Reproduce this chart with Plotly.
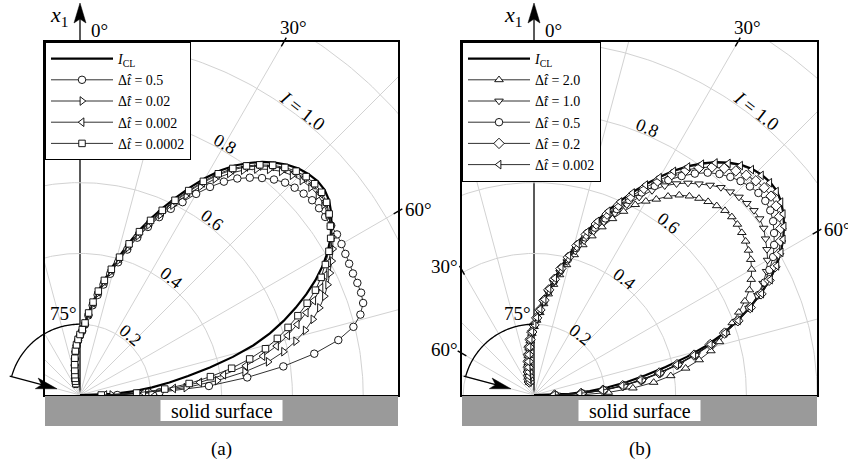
import math
import numpy as np
import plotly.graph_objects as go

# ---------------- data (angle from the surface normal x1, degrees) ----------------
THETA = [-20, -18, -16, -14, -12, -10, -8, -6, -4, -2,
         0, 2, 4, 6, 8, 10, 12, 14, 16, 18,
         20, 22, 24, 26, 28, 30, 32, 34, 36, 38,
         40, 42, 44, 46, 48, 50, 52, 54, 56, 58,
         60, 62, 64, 66, 68, 70, 72, 74, 76, 78,
         80, 82, 84, 86, 88, 90]

# panel (a)
ICL_A = [0.035, 0.042, 0.050, 0.060, 0.072, 0.088, 0.106, 0.126, 0.143, 0.158,
         0.172, 0.186, 0.205, 0.234, 0.267, 0.300, 0.334, 0.370, 0.410, 0.455,
         0.498, 0.540, 0.580, 0.622, 0.665, 0.708, 0.748, 0.782, 0.810, 0.836,
         0.857, 0.875, 0.889, 0.898, 0.903, 0.902, 0.893, 0.877, 0.857, 0.834,
         0.808, 0.776, 0.740, 0.700, 0.657, 0.612, 0.564, 0.510, 0.445, 0.375,
         0.310, 0.255, 0.205, 0.155, 0.095, 0.000]
A_DT_0_5 = [0.034, 0.041, 0.049, 0.058, 0.070, 0.085, 0.103, 0.122, 0.139, 0.154,
            0.168, 0.181, 0.199, 0.226, 0.256, 0.287, 0.319, 0.353, 0.390, 0.432,
            0.473, 0.512, 0.550, 0.585, 0.617, 0.656, 0.693, 0.727, 0.756, 0.779,
            0.800, 0.819, 0.834, 0.843, 0.850, 0.856, 0.857, 0.856, 0.856, 0.856,
            0.853, 0.849, 0.846, 0.844, 0.845, 0.845, 0.841, 0.824, 0.796, 0.746,
            0.672, 0.580, 0.475, 0.365, 0.225, 0.105]
A_DT_0_02 = [0.034, 0.041, 0.049, 0.059, 0.071, 0.086, 0.104, 0.123, 0.140, 0.155,
             0.169, 0.183, 0.201, 0.229, 0.260, 0.292, 0.325, 0.359, 0.396, 0.438,
             0.479, 0.518, 0.557, 0.597, 0.638, 0.680, 0.720, 0.755, 0.785, 0.810,
             0.832, 0.850, 0.863, 0.872, 0.877, 0.878, 0.874, 0.866, 0.855, 0.842,
             0.825, 0.806, 0.786, 0.766, 0.745, 0.720, 0.692, 0.662, 0.628, 0.588,
             0.540, 0.470, 0.390, 0.300, 0.200, 0.090]
A_DT_0_002 = [0.035, 0.042, 0.050, 0.060, 0.072, 0.087, 0.105, 0.124, 0.141, 0.156,
              0.170, 0.184, 0.203, 0.231, 0.263, 0.296, 0.329, 0.364, 0.402, 0.445,
              0.487, 0.527, 0.566, 0.607, 0.649, 0.692, 0.732, 0.767, 0.796, 0.821,
              0.843, 0.861, 0.874, 0.883, 0.887, 0.886, 0.880, 0.868, 0.854, 0.840,
              0.818, 0.795, 0.770, 0.745, 0.712, 0.680, 0.645, 0.610, 0.572, 0.528,
              0.475, 0.410, 0.340, 0.265, 0.180, 0.070]
A_DT_0_0002 = [0.034, 0.041, 0.049, 0.059, 0.071, 0.087, 0.105, 0.125, 0.142, 0.157,
               0.171, 0.185, 0.204, 0.233, 0.265, 0.298, 0.331, 0.366, 0.405, 0.449,
               0.491, 0.532, 0.571, 0.612, 0.654, 0.697, 0.737, 0.772, 0.800, 0.825,
               0.847, 0.865, 0.879, 0.888, 0.892, 0.891, 0.884, 0.870, 0.853, 0.835,
               0.812, 0.785, 0.758, 0.728, 0.692, 0.655, 0.618, 0.580, 0.540, 0.490,
               0.435, 0.372, 0.310, 0.240, 0.160, 0.060]

# panel (b)
ICL_B = [0.040, 0.048, 0.057, 0.068, 0.081, 0.097, 0.116, 0.137, 0.158, 0.180,
         0.200, 0.220, 0.244, 0.272, 0.304, 0.336, 0.370, 0.408, 0.447, 0.487,
         0.525, 0.563, 0.600, 0.638, 0.675, 0.712, 0.748, 0.780, 0.809, 0.835,
         0.857, 0.875, 0.888, 0.895, 0.898, 0.896, 0.886, 0.871, 0.852, 0.830,
         0.805, 0.775, 0.740, 0.700, 0.656, 0.610, 0.562, 0.508, 0.445, 0.380,
         0.320, 0.265, 0.210, 0.158, 0.100, 0.000]
B_DT_2_0 = [0.038, 0.046, 0.055, 0.065, 0.078, 0.093, 0.112, 0.133, 0.153, 0.174,
            0.193, 0.211, 0.233, 0.259, 0.288, 0.317, 0.347, 0.379, 0.412, 0.446,
            0.478, 0.512, 0.545, 0.577, 0.609, 0.632, 0.652, 0.677, 0.698, 0.713,
            0.725, 0.735, 0.743, 0.750, 0.752, 0.750, 0.745, 0.739, 0.731, 0.722,
            0.710, 0.695, 0.677, 0.652, 0.624, 0.596, 0.570, 0.545, 0.515, 0.477,
            0.435, 0.390, 0.340, 0.280, 0.210, 0.130]
B_DT_1_0 = [0.039, 0.047, 0.055, 0.066, 0.079, 0.094, 0.113, 0.134, 0.155, 0.176,
            0.195, 0.214, 0.236, 0.263, 0.293, 0.323, 0.354, 0.388, 0.423, 0.458,
            0.492, 0.527, 0.562, 0.598, 0.633, 0.667, 0.697, 0.720, 0.740, 0.757,
            0.774, 0.789, 0.798, 0.805, 0.809, 0.811, 0.809, 0.802, 0.789, 0.776,
            0.762, 0.744, 0.720, 0.692, 0.655, 0.612, 0.568, 0.522, 0.472, 0.420,
            0.366, 0.312, 0.259, 0.202, 0.140, 0.063]
B_DT_0_5 = [0.039, 0.047, 0.056, 0.067, 0.079, 0.095, 0.114, 0.135, 0.156, 0.177,
            0.197, 0.216, 0.239, 0.266, 0.297, 0.328, 0.360, 0.395, 0.432, 0.468,
            0.503, 0.538, 0.575, 0.613, 0.648, 0.682, 0.716, 0.746, 0.773, 0.797,
            0.815, 0.829, 0.840, 0.848, 0.853, 0.853, 0.847, 0.835, 0.818, 0.800,
            0.780, 0.753, 0.725, 0.694, 0.656, 0.613, 0.567, 0.520, 0.469, 0.416,
            0.362, 0.308, 0.255, 0.198, 0.136, 0.060]
B_DT_0_2 = [0.039, 0.047, 0.056, 0.067, 0.080, 0.096, 0.115, 0.136, 0.157, 0.178,
            0.198, 0.218, 0.241, 0.269, 0.300, 0.332, 0.365, 0.401, 0.439, 0.477,
            0.514, 0.551, 0.587, 0.624, 0.661, 0.698, 0.734, 0.766, 0.794, 0.817,
            0.836, 0.852, 0.863, 0.871, 0.875, 0.874, 0.868, 0.857, 0.841, 0.821,
            0.798, 0.771, 0.739, 0.702, 0.659, 0.613, 0.566, 0.518, 0.466, 0.413,
            0.359, 0.305, 0.252, 0.195, 0.133, 0.058]
B_DT_0_002 = [0.039, 0.047, 0.056, 0.067, 0.080, 0.096, 0.115, 0.136, 0.157, 0.179,
              0.199, 0.219, 0.243, 0.271, 0.303, 0.335, 0.369, 0.406, 0.445, 0.484,
              0.522, 0.560, 0.597, 0.635, 0.672, 0.709, 0.745, 0.777, 0.806, 0.832,
              0.854, 0.872, 0.885, 0.893, 0.896, 0.894, 0.885, 0.870, 0.852, 0.830,
              0.806, 0.777, 0.743, 0.704, 0.660, 0.614, 0.567, 0.518, 0.465, 0.412,
              0.358, 0.303, 0.250, 0.192, 0.130, 0.055]

GRID_R = [0.2, 0.4, 0.6, 0.8, 1.0, 1.2]
GRID_ANG = [-75, -60, -45, -30, -15, 15, 30, 45, 60, 75]

ICL_LABEL = "<i>I</i><sub>CL</sub>"
def dt_label(v):
    return "Δ<i>t̂</i> = " + v

SERIES_A = [(ICL_LABEL, ICL_A, None),
            (dt_label("0.5"), A_DT_0_5, "circle"),
            (dt_label("0.02"), A_DT_0_02, "triangle-right"),
            (dt_label("0.002"), A_DT_0_002, "triangle-left"),
            (dt_label("0.0002"), A_DT_0_0002, "square")]
SERIES_B = [(ICL_LABEL, ICL_B, None),
            (dt_label("2.0"), B_DT_2_0, "triangle-up"),
            (dt_label("1.0"), B_DT_1_0, "triangle-down"),
            (dt_label("0.5"), B_DT_0_5, "circle"),
            (dt_label("0.2"), B_DT_0_2, "diamond"),
            (dt_label("0.002"), B_DT_0_002, "triangle-left")]

RADIAL_LABELS_A = [("0.2", 0.22, 40, 18), ("0.4", 0.42, 38, 18), ("0.6", 0.62, 37, 18),
                   ("0.8", 0.82, 30, 18), ("<i>I</i> = 1.0", 1.02, 38, 19)]
RADIAL_LABELS_B = [("0.2", 0.215, 38, 18), ("0.4", 0.415, 38, 18), ("0.6", 0.615, 38, 18),
                   ("0.8", 0.82, 23, 18), ("<i>I</i> = 1.0", 1.02, 38, 19)]

# ---------------- geometry / style ----------------
W, H = 848, 464
SCALE = 354.0
SERIF = "Liberation Serif, Times New Roman, serif"
GEOM = {
    "a": dict(left=45, right=398, top=42, bottom=395, ox=80, xa="x", ya="y", leg="legend",
              series=SERIES_A, rlabels=RADIAL_LABELS_A, tag="(a)", left_ticks=False),
    "b": dict(left=462, right=817, top=42, bottom=395, ox=534, xa="x2", ya="y2", leg="legend2",
              series=SERIES_B, rlabels=RADIAL_LABELS_B, tag="(b)", left_ticks=True),
}
SIZES = {"circle": 7.5, "triangle-right": 7.5, "triangle-left": 7.5, "square": 6.5,
         "triangle-up": 7.5, "triangle-down": 7.5, "diamond": 8}


def to_xy(I):
    x = [r * math.sin(math.radians(t)) for r, t in zip(I, THETA)]
    y = [r * math.cos(math.radians(t)) for r, t in zip(I, THETA)]
    return x, y


def P(xp, yp):
    """page pixel -> paper fraction"""
    return xp / W, 1 - yp / H


def seg_path(points, close=False):
    pts = [P(x, y) for x, y in points]
    s = "M " + " L ".join(f"{a:.5f},{b:.5f}" for a, b in pts)
    return s + (" Z" if close else "")


def head_path(tip, u, length=20.0, half=5.5, notch=15.0):
    n = (-u[1], u[0])
    tx, ty = tip
    b1 = (tx - length * u[0] + half * n[0], ty - length * u[1] + half * n[1])
    b2 = (tx - length * u[0] - half * n[0], ty - length * u[1] - half * n[1])
    nt = (tx - notch * u[0], ty - notch * u[1])
    return seg_path([tip, b1, nt, b2], close=True)


def text_at(xp, yp, text, size=19, xanchor="center"):
    x, y = P(xp, yp)
    return dict(x=x, y=y, xref="paper", yref="paper", text=text, showarrow=False,
                xanchor=xanchor, yanchor="middle",
                font=dict(family=SERIF, size=size, color="black"))


# grid (circles + radial lines) in data units
gx, gy = [], []
tt = np.radians(np.linspace(-90, 90, 241))
for r in GRID_R:
    gx += list(r * np.sin(tt)) + [None]
    gy += list(r * np.cos(tt)) + [None]
for a in GRID_ANG:
    ar = math.radians(a)
    gx += [0.0, 1.7 * math.sin(ar), None]
    gy += [0.0, 1.7 * math.cos(ar), None]

fig = go.Figure()
shapes, annotations = [], []
layout_axes = {}

for key, g in GEOM.items():
    xa, ya = g["xa"], g["ya"]
    fig.add_trace(go.Scatter(x=gx, y=gy, mode="lines", line=dict(color="#d2d2d2", width=1),
                             hoverinfo="skip", showlegend=False, xaxis=xa, yaxis=ya))
    for name, I, sym in g["series"]:
        x, y = to_xy(I)
        if sym is None:
            tr = go.Scatter(x=x, y=y, mode="lines", name=name,
                            line=dict(color="black", width=2.2), legend=g["leg"],
                            xaxis=xa, yaxis=ya)
        else:
            tr = go.Scatter(x=x, y=y, mode="lines+markers", name=name,
                            line=dict(color="#1a1a1a", width=0.9),
                            marker=dict(symbol=sym, size=SIZES[sym], color="white",
                                        line=dict(color="black", width=0.9)),
                            cliponaxis=False, legend=g["leg"], xaxis=xa, yaxis=ya)
        fig.add_trace(tr)

    axis_common = dict(showgrid=False, zeroline=False, showticklabels=False, ticks="",
                       showline=True, linecolor="black", linewidth=2, mirror=True,
                       fixedrange=True)
    xname = "xaxis" if xa == "x" else "xaxis2"
    yname = "yaxis" if ya == "y" else "yaxis2"
    dx0, dy1 = P(g["left"], g["top"])
    dx1, dy0 = P(g["right"], g["bottom"])
    layout_axes[xname] = dict(domain=[dx0, dx1],
                              range=[(g["left"] - g["ox"]) / SCALE, (g["right"] - g["ox"]) / SCALE],
                              anchor=ya, **axis_common)
    layout_axes[yname] = dict(domain=[dy0, dy1],
                              range=[0, (g["bottom"] - g["top"]) / SCALE],
                              anchor=xa, **axis_common)

    ox, oy = g["ox"], g["bottom"]
    # solid surface band
    x0, y0 = P(g["left"], oy + 1)
    x1, y1 = P(g["right"], 426)
    shapes.append(dict(type="rect", xref="paper", yref="paper", x0=x0, x1=x1, y0=y1, y1=y0,
                       fillcolor="#9a9a9a", line=dict(width=0), layer="above"))
    cx = (g["left"] + g["right"]) / 2
    bx0, by0 = P(cx - 61, 400)
    bx1, by1 = P(cx + 61, 421)
    shapes.append(dict(type="rect", xref="paper", yref="paper", x0=bx0, x1=bx1, y0=by1, y1=by0,
                       fillcolor="white", line=dict(width=0), layer="above"))
    annotations.append(text_at(cx, 410.5, "solid surface", size=20))
    annotations.append(text_at(cx, 449, g["tag"], size=19))

    # x1 axis with arrow
    shapes.append(dict(type="path", xref="paper", yref="paper", path=seg_path([(ox, oy), (ox, 14)]),
                       line=dict(color="black", width=1.3), layer="below"))
    shapes.append(dict(type="path", xref="paper", yref="paper",
                       path=head_path((ox, 3), (0.0, -1.0), length=20, half=6, notch=16),
                       fillcolor="black", line=dict(color="black", width=0.5), layer="above"))
    annotations.append(text_at(ox - 21, 16, "<i>x</i><sub>1</sub>", size=22))
    annotations.append(text_at(ox + 19, 31, "0°", size=19))

    # angular ticks on the frame
    def tick(cx_, cy_, ang):
        d = (math.sin(math.radians(ang)), -math.cos(math.radians(ang)))
        return seg_path([(cx_ - 5 * d[0], cy_ - 5 * d[1]), (cx_ + 5 * d[0], cy_ + 5 * d[1])])
    tx30 = ox + (oy - g["top"]) * math.tan(math.radians(30))
    shapes.append(dict(type="path", xref="paper", yref="paper", path=tick(tx30, g["top"], 30),
                       line=dict(color="black", width=1.4)))
    annotations.append(text_at(tx30 + 10, 28, "30°", size=19))
    ty60 = oy - (g["right"] - ox) / math.tan(math.radians(60))
    shapes.append(dict(type="path", xref="paper", yref="paper", path=tick(g["right"], ty60, 60),
                       line=dict(color="black", width=1.4)))
    annotations.append(text_at(g["right"] + 5, ty60 - 2, "60°", size=19, xanchor="left"))
    if g["left_ticks"]:
        for ang in (30, 60):
            tyl = oy - (ox - g["left"]) / math.tan(math.radians(ang))
            shapes.append(dict(type="path", xref="paper", yref="paper",
                               path=tick(g["left"], tyl, -ang), line=dict(color="black", width=1.4)))
            annotations.append(text_at(g["left"] - 2, tyl - 4, f"{ang}°", size=19, xanchor="right"))

    # incidence angle arc (75 degrees) and incoming arrow
    R = 0.2 * SCALE
    phis = np.radians(np.linspace(0, 75, 60))
    arc = [(ox - R * math.sin(p), oy - R * math.cos(p)) for p in phis]
    shapes.append(dict(type="path", xref="paper", yref="paper", path=seg_path(arc),
                       line=dict(color="black", width=1.3)))
    ex, ey = arc[-1]
    u = (math.sin(math.radians(75)), math.cos(math.radians(75)))
    tip = (ex + 47 * u[0], ey + 47 * u[1])
    shapes.append(dict(type="path", xref="paper", yref="paper",
                       path=seg_path([(ex - 2 * u[0], ey - 2 * u[1]), (tip[0] - 14 * u[0], tip[1] - 14 * u[1])]),
                       line=dict(color="black", width=1.3)))
    shapes.append(dict(type="path", xref="paper", yref="paper",
                       path=head_path(tip, u, length=21, half=5.5, notch=16),
                       fillcolor="black", line=dict(color="black", width=0.5)))
    annotations.append(text_at(ox - 17, 313, "75°", size=19))

    # radial labels along circles
    for txt, r, ang, fs in g["rlabels"]:
        annotations.append(dict(x=r * math.sin(math.radians(ang)), y=r * math.cos(math.radians(ang)),
                                xref=xa, yref=ya, text=txt, textangle=ang, showarrow=False,
                                xanchor="center", yanchor="middle",
                                font=dict(family=SERIF, size=fs, color="black")))

legend_common = dict(xanchor="left", yanchor="top", bgcolor="white", bordercolor="black",
                     borderwidth=1, font=dict(family=SERIF, size=14, color="black"),
                     itemwidth=62, tracegroupgap=0, itemclick=False, itemdoubleclick=False)

la_x, la_y = P(45, 42)
lb_x, lb_y = P(462, 42)
fig.update_layout(
    width=W, height=H, margin=dict(l=0, r=0, t=0, b=0),
    paper_bgcolor="white", plot_bgcolor="rgba(0,0,0,0)",
    showlegend=True, hovermode=False,
    legend=dict(x=la_x, y=la_y, **legend_common),
    legend2=dict(x=lb_x, y=lb_y, **legend_common),
    shapes=shapes, annotations=annotations,
    font=dict(family=SERIF, color="black"),
    **layout_axes,
)

# remove the default 8px page margin so the 848x464 figure fills the window exactly
fig.write_html("out.html",
               config={"displayModeBar": False, "staticPlot": True},
               post_script="document.body.style.margin='0';document.body.style.overflow='hidden';")
